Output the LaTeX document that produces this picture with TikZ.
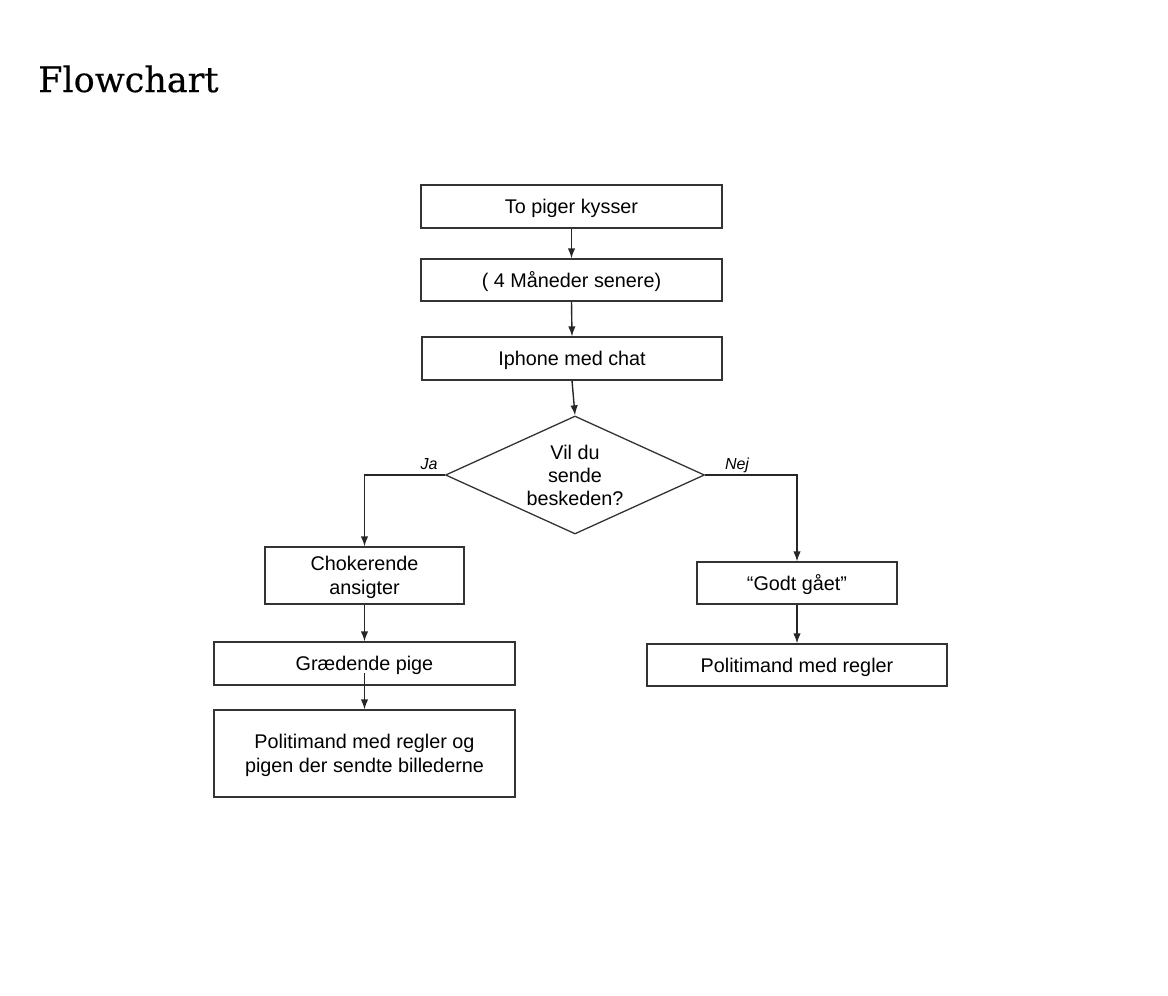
\documentclass[tikz,border=0pt]{standalone}
\usepackage{fontspec}
\setmainfont{Liberation Sans}
\newfontfamily\titlefont[FakeBold=0.4]{DejaVu Serif}
\usetikzlibrary{shapes.geometric,arrows.meta}
\begin{document}
\begin{tikzpicture}[x=1pt,y=-1pt,
  box/.style={draw=black!80,line width=1.3pt,rectangle,inner sep=0pt,align=center,text depth=0pt,font=\fontsize{19.8}{24}\selectfont},
  dec/.style={draw=black!80,line width=1.3pt,diamond,inner sep=0pt},
  arr/.style={draw=black!85,line width=1.4pt,-{Latex[length=10pt,width=7.5pt]}},
  lbl/.style={font=\fontsize{16}{18}\selectfont\itshape,inner sep=0pt}]
\useasboundingbox (0,0) rectangle (1168,996);
\node[anchor=base west,inner sep=0pt,font=\titlefont\fontsize{35}{40}\selectfont] (title) at (38,92) {Flowchart};
\node[box,minimum width=301,minimum height=43] (b1) at (571.5,206.5) {To piger kysser};
\node[box,minimum width=301,minimum height=42] (b2) at (571.5,280) {( 4 Måneder senere)};
\node[box,minimum width=300,minimum height=43] (b3) at (572,358.5) {Iphone med chat};
\node[dec,minimum width=259,minimum height=118] (d) at (575,475) {};
\node[align=center,font=\fontsize{19.8}{23}\selectfont,inner sep=0pt] (dt) at (575,475) {Vil du\\sende\\beskeden?};
\node[box,minimum width=199,minimum height=57] (l1) at (364.5,575.5) {Chokerende\\ansigter};
\node[box,minimum width=301,minimum height=43] (l2) at (364.5,663.5) {Grædende pige};
\node[box,minimum width=301,minimum height=87] (l3) at (364.5,753.5) {Politimand med regler og\\pigen der sendte billederne};
\node[box,minimum width=200,minimum height=42] (r1) at (797,583) {“Godt gået”};
\node[box,minimum width=300,minimum height=42] (r2) at (797,665) {Politimand med regler};
\node[lbl,anchor=base] (ja) at (429,469) {Ja};
\node[lbl,anchor=base] (nej) at (737,469) {Nej};
\coordinate (lc) at (364.5,475);
\coordinate (rc) at (797,475);
\coordinate (gstart) at (364.5,673);
\draw[arr] (b1.south) -- (b2.north);
\draw[arr] (b2.south) -- (b3.north);
\draw[arr] (b3.south) -- (d.north);
\draw[arr] (d.west) -- (lc) -- (l1.north);
\draw[arr] (d.east) -- (rc) -- (r1.north);
\draw[arr] (l1.south) -- (l2.north);
\draw[arr] (gstart) -- (l3.north);
\draw[arr] (r1.south) -- (r2.north);
\end{tikzpicture}
\end{document}
